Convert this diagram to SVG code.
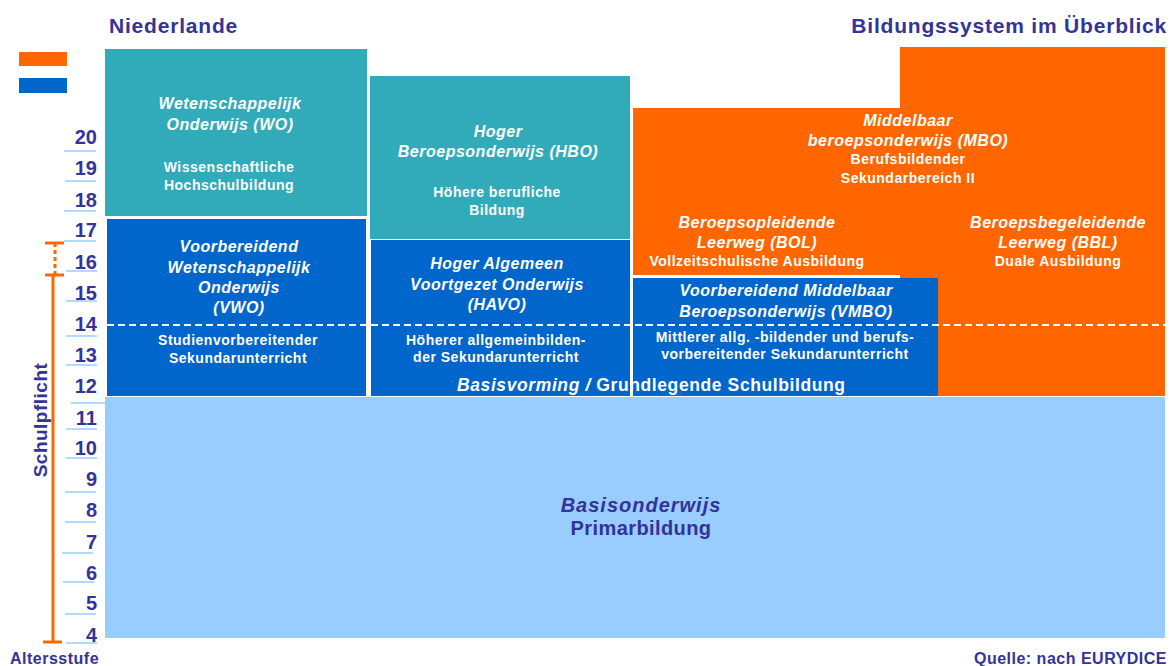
<svg xmlns="http://www.w3.org/2000/svg" width="1171" height="666" viewBox="0 0 1171 666">
<style>
text{font-family:"Liberation Sans",Arial,sans-serif;font-weight:bold}
.title{font-size:21px;fill:#333399;letter-spacing:0.8px}
.num{font-size:20px;fill:#333399;text-anchor:end}
.tick{stroke:#99CCFF;stroke-width:1.5}
.hd{font-size:16px;fill:#fff;font-style:italic;text-anchor:middle;letter-spacing:0.5px}
.sub{font-size:14px;fill:#fff;text-anchor:middle;letter-spacing:0.5px}
.teal{fill:#31ABBA}
.blue{fill:#0066CC}
.orange{fill:#FF6600}
.light{fill:#99CCFF}
.foot{font-size:16px;fill:#333399;letter-spacing:0.5px}
.dash{stroke:#fff;stroke-width:2;stroke-dasharray:7 4;fill:none}
.br{stroke:#FF6600;stroke-width:3;fill:none}
</style>
<rect width="1171" height="666" fill="#fff"/>

<text class="title" x="109" y="33">Niederlande</text>
<text class="title" x="1167" y="33" text-anchor="end">Bildungssystem im Überblick</text>

<g id="legend">
<rect class="orange" x="19" y="52" width="48" height="14"/>
<rect class="blue" x="19" y="78" width="48" height="15"/>
</g>

<g id="primary">
<rect class="light" x="105" y="397" width="1060" height="241"/>
<text x="641" y="512" font-size="20" font-style="italic" fill="#333399" text-anchor="middle" letter-spacing="1">Basisonderwijs</text>
<text x="641" y="535" font-size="20" fill="#333399" text-anchor="middle" letter-spacing="0.4">Primarbildung</text>
</g>

<g id="mbo">
<rect class="orange" x="633" y="108" width="270" height="167"/>
<rect class="orange" x="900" y="47" width="265" height="349"/>
<text class="hd" x="908" y="126">Middelbaar</text>
<text class="hd" x="908" y="146">beroepsonderwijs (MBO)</text>
<text class="sub" x="908" y="164">Berufsbildender</text>
<text class="sub" x="908" y="183">Sekundarbereich II</text>
</g>

<g id="bol">
<text class="hd" x="757" y="228">Beroepsopleidende</text>
<text class="hd" x="757" y="248">Leerweg (BOL)</text>
<text class="sub" x="757" y="266">Vollzeitschulische Ausbildung</text>
</g>

<g id="bbl">
<text class="hd" x="1058" y="228">Beroepsbegeleidende</text>
<text class="hd" x="1058" y="248">Leerweg (BBL)</text>
<text class="sub" x="1058" y="266">Duale Ausbildung</text>
</g>

<g id="wo">
<rect class="teal" x="105" y="49" width="262" height="167"/>
<text class="hd" x="230" y="109">Wetenschappelijk</text>
<text class="hd" x="230" y="130">Onderwijs (WO)</text>
<text class="sub" x="229" y="172">Wissenschaftliche</text>
<text class="sub" x="229" y="190">Hochschulbildung</text>
</g>

<g id="hbo">
<rect class="teal" x="370" y="76" width="260" height="163"/>
<text class="hd" x="498" y="137">Hoger</text>
<text class="hd" x="498" y="157">Beroepsonderwijs (HBO)</text>
<text class="sub" x="497" y="197">Höhere berufliche</text>
<text class="sub" x="497" y="215">Bildung</text>
</g>

<g id="vwo">
<rect class="blue" x="107" y="219" width="259" height="177"/>
<text class="hd" x="239" y="252">Voorbereidend</text>
<text class="hd" x="239" y="273">Wetenschappelijk</text>
<text class="hd" x="239" y="293">Onderwijs</text>
<text class="hd" x="239" y="313">(VWO)</text>
<text class="sub" x="238" y="345">Studienvorbereitender</text>
<text class="sub" x="238" y="363">Sekundarunterricht</text>
</g>

<g id="havo">
<rect class="blue" x="371" y="240" width="259" height="156"/>
<text class="hd" x="497" y="269">Hoger Algemeen</text>
<text class="hd" x="497" y="290">Voortgezet Onderwijs</text>
<text class="hd" x="497" y="310">(HAVO)</text>
<text class="sub" x="496" y="345">Höherer allgemeinbilden-</text>
<text class="sub" x="496" y="362">der Sekundarunterricht</text>
</g>

<g id="vmbo">
<rect class="blue" x="633" y="278" width="305" height="118"/>
<text class="hd" x="786" y="296">Voorbereidend Middelbaar</text>
<text class="hd" x="786" y="317">Beroepsonderwijs (VMBO)</text>
<text class="sub" x="785" y="342">Mittlerer allg. -bildender und berufs-</text>
<text class="sub" x="785" y="359">vorbereitender Sekundarunterricht</text>
</g>

<g id="basisvorming">
<line class="dash" x1="107" y1="325" x2="1168" y2="325"/>
<text x="457" y="391" font-size="17.5" fill="#fff" letter-spacing="0.6"><tspan font-style="italic">Basisvorming /</tspan> Grundlegende Schulbildung</text>
</g>

<g id="axis">
<line class="tick" x1="64" y1="151" x2="96" y2="151"/>
<line class="tick" x1="65" y1="181" x2="96" y2="181"/>
<line class="tick" x1="64" y1="211" x2="96" y2="211"/>
<line class="tick" x1="64" y1="241" x2="96" y2="241"/>
<line class="tick" x1="66" y1="271" x2="97" y2="271"/>
<line class="tick" x1="66" y1="301" x2="97" y2="301"/>
<line class="tick" x1="66" y1="336" x2="97" y2="336"/>
<line class="tick" x1="66" y1="365" x2="97" y2="365"/>
<line class="tick" x1="71" y1="403" x2="110" y2="403"/>
<line class="tick" x1="66" y1="429" x2="97" y2="429"/>
<line class="tick" x1="66" y1="458" x2="97" y2="458"/>
<line class="tick" x1="65" y1="492" x2="96" y2="492"/>
<line class="tick" x1="65" y1="522" x2="96" y2="522"/>
<line class="tick" x1="62" y1="553" x2="93" y2="553"/>
<line class="tick" x1="63" y1="582" x2="94" y2="582"/>
<line class="tick" x1="65" y1="614" x2="96" y2="614"/>
<line class="tick" x1="66" y1="643" x2="97" y2="643"/>
<text class="num" x="97" y="144">20</text>
<text class="num" x="97" y="175">19</text>
<text class="num" x="97" y="207">18</text>
<text class="num" x="97" y="237">17</text>
<text class="num" x="97" y="269">16</text>
<text class="num" x="97" y="300">15</text>
<text class="num" x="97" y="331">14</text>
<text class="num" x="97" y="362">13</text>
<text class="num" x="97" y="393">12</text>
<text class="num" x="97" y="425">11</text>
<text class="num" x="97" y="455">10</text>
<text class="num" x="97" y="486">9</text>
<text class="num" x="97" y="517">8</text>
<text class="num" x="97" y="549">7</text>
<text class="num" x="97" y="580">6</text>
<text class="num" x="97" y="610">5</text>
<text class="num" x="97" y="642">4</text>
</g>

<g id="schulpflicht">
<line class="br" x1="53" y1="275" x2="53" y2="642"/>
<line class="br" x1="43" y1="642" x2="62" y2="642"/>
<line class="br" x1="45" y1="275" x2="64" y2="275"/>
<line class="br" x1="45" y1="243" x2="64" y2="243"/>
<line class="br" x1="55" y1="243" x2="55" y2="275" stroke-dasharray="4 3"/>
<text x="0" y="0" transform="translate(47,420) rotate(-90)" font-size="19" fill="#333399" text-anchor="middle" letter-spacing="0.5">Schulpflicht</text>
</g>

<g id="connectors"></g>

<text class="foot" x="10" y="664">Altersstufe</text>
<text class="foot" x="1167" y="664" text-anchor="end">Quelle: nach EURYDICE</text>
</svg>
